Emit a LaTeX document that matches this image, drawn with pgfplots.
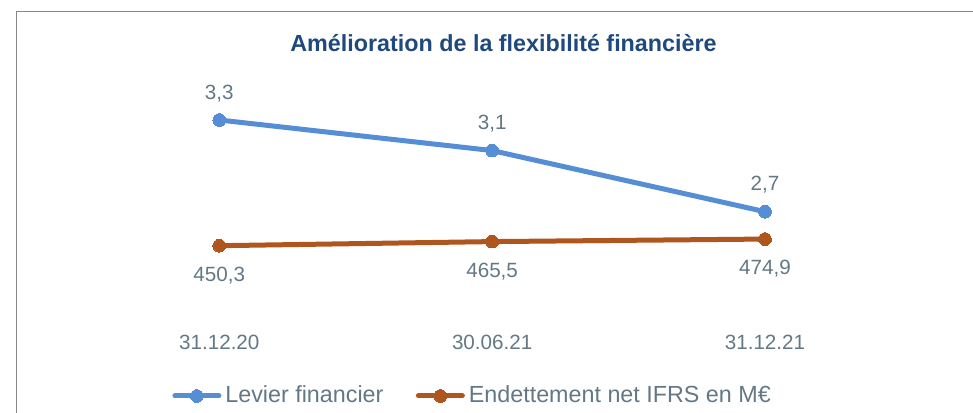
\documentclass[border=0pt]{standalone}
\usepackage{pgfplots}
\pgfplotsset{compat=1.18}
\usepackage{fontspec}
\setmainfont{Liberation Sans}
\definecolor{cblue}{HTML}{558ED5}
\definecolor{corange}{HTML}{AF551E}
\definecolor{ctitle}{HTML}{1F497D}
\definecolor{ctext}{HTML}{637884}
\definecolor{cframe}{HTML}{888888}
\pgfplotsset{
  common/.style={
    at={(109.65bp,46.5bp)}, anchor=south west,
    scale only axis, width=272.85bp, height=130bp,
    xmin=0, xmax=2, clip=false,
    point meta=y,
    nodes near coords={\pgfmathprintnumber[fixed,precision=1,fixed zerofill,use comma,assume math mode=true]{\pgfplotspointmeta}},
  },
  legend image code/.code={%
    \draw[mark repeat=2,mark phase=2,line cap=round,#1] plot coordinates {(1.25bp,0bp) (12.25bp,0bp) (23.25bp,0bp)};},
}
\begin{document}
\begin{tikzpicture}
\path[use as bounding box] (0,0) rectangle (486.5bp,206.5bp);
\clip (0,0) rectangle (486.5bp,206.5bp);
\draw[cframe, line width=0.6bp] (8.25bp,-10bp) -- (8.25bp,200.75bp) -- (500bp,200.75bp);
\node[font=\bfseries\fontsize{11.7}{14}\selectfont, text=ctitle] at (251.75bp,184.75bp) {Amélioration de la flexibilité financière};
\begin{axis}[common,
  ymin=1.9911, ymax=3.6927,
  axis line style={draw=none}, tick style={draw=none},
  ytick=\empty, xtick={0,1,2},
  xticklabels={31.12.20,30.06.21,31.12.21},
  xticklabel style={font=\fontsize{10.35}{12}\selectfont, text=ctext, anchor=center, yshift=-11bp},
  nodes near coords style={font=\fontsize{10.35}{12}\selectfont, text=ctext, anchor=center, yshift=13.3bp},
  legend style={at={(-0.0867,-0.2923)}, anchor=west, draw=none, fill=none, inner sep=0pt,
    legend columns=-1, font=\fontsize{11.7}{14}\selectfont, text=ctext,
    nodes={inner sep=0pt},
    /tikz/every odd column/.append style={column sep=2bp},
    /tikz/every even column/.append style={column sep=16.2bp}},
]
\addplot[cblue, line width=2.5bp, mark=*, mark size=3.2bp, mark options={fill=cblue, draw=cblue, line width=0bp}]
  table[x=x,y=y] {
x y
0 3.3
1 3.1
2 2.7
};
\addlegendentry{Levier financier}
\addlegendimage{corange, line width=2.5bp, mark=*, mark size=3.2bp, mark options={fill=corange, draw=corange, line width=0bp}}
\addlegendentry{Endettement net IFRS en M€}
\end{axis}
\begin{axis}[common,
  ymin=175.1, ymax=1138.1, hide axis,
  nodes near coords style={font=\fontsize{10.35}{12}\selectfont, text=ctext, anchor=center, yshift=-14.8bp},
]
\addplot[corange, line width=2.5bp, mark=*, mark size=3.2bp, mark options={fill=corange, draw=corange, line width=0bp}]
  table[x=x,y=y] {
x y
0 450.3
1 465.5
2 474.9
};
\end{axis}
\end{tikzpicture}
\end{document}
